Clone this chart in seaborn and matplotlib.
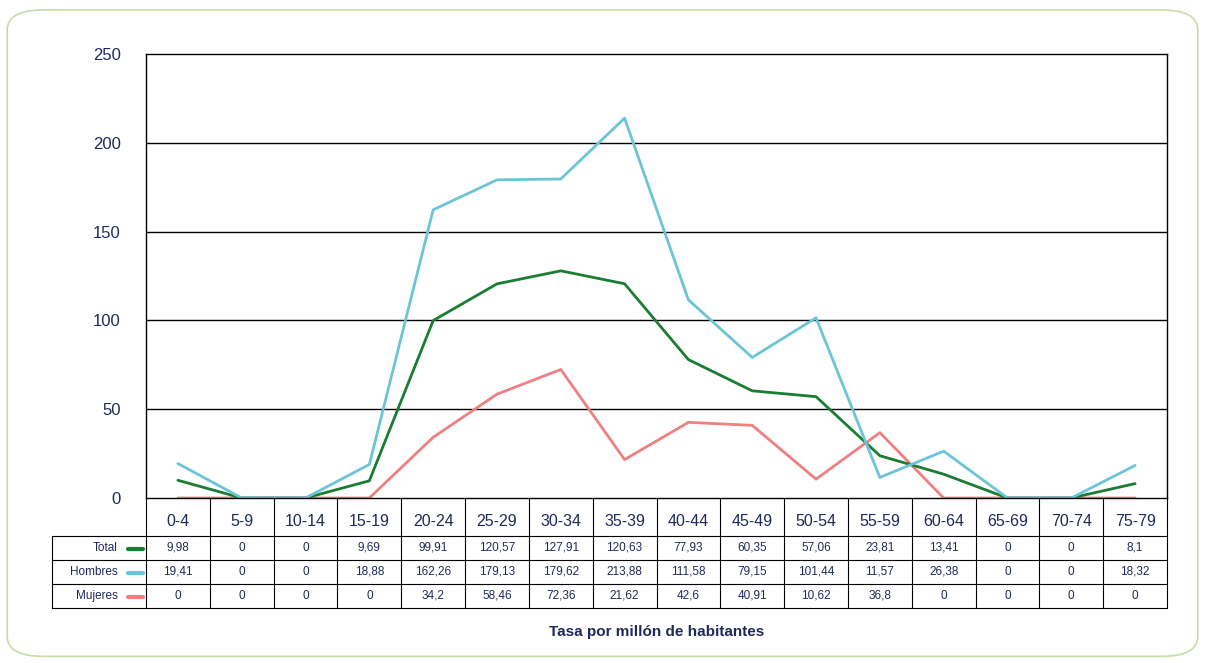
import matplotlib
matplotlib.use("Agg")
import matplotlib.pyplot as plt
import seaborn as sns
import pandas as pd
from matplotlib.patches import FancyBboxPatch

categories = ["0-4", "5-9", "10-14", "15-19", "20-24", "25-29", "30-34", "35-39",
              "40-44", "45-49", "50-54", "55-59", "60-64", "65-69", "70-74", "75-79"]
total = [9.98, 0, 0, 9.69, 99.91, 120.57, 127.91, 120.63, 77.93, 60.35, 57.06, 23.81, 13.41, 0, 0, 8.1]
hombres = [19.41, 0, 0, 18.88, 162.26, 179.13, 179.62, 213.88, 111.58, 79.15, 101.44, 11.57, 26.38, 0, 0, 18.32]
mujeres = [0, 0, 0, 0, 34.2, 58.46, 72.36, 21.62, 42.6, 40.91, 10.62, 36.8, 0, 0, 0, 0]

series = {"Total": total, "Hombres": hombres, "Mujeres": mujeres}
colors = {"Total": "#1b7d32", "Hombres": "#6cc4d6", "Mujeres": "#ee8080"}
navy = "#1f2a5c"

sns.set_theme(style="white")
plt.rcParams["font.family"] = ["Liberation Sans", "DejaVu Sans"]

fig = plt.figure(figsize=(12.05, 6.63), dpi=100)
fig.patches.append(FancyBboxPatch((0.006, 0.01), 0.988, 0.975, boxstyle="round,pad=0,rounding_size=0.03",
                                  transform=fig.transFigure, fill=False, edgecolor="#c8dca8", linewidth=1.2))

ax = fig.add_axes([146 / 1205, 1 - 498 / 663, 1021 / 1205, 444 / 663])
df = pd.DataFrame([(i, name, v) for name, vals in series.items() for i, v in enumerate(vals)],
                  columns=["x", "serie", "valor"])
sns.lineplot(data=df, x="x", y="valor", hue="serie", palette=colors, linewidth=2,
             ax=ax, legend=False, hue_order=["Mujeres", "Total", "Hombres"])
ax.set_xlim(-0.5, 15.5)
ax.set_ylim(0, 250)
ax.set_yticks([0, 50, 100, 150, 200, 250])
ax.set_xticks([])
ax.set_xlabel("")
ax.set_ylabel("")
ax.tick_params(axis="y", labelsize=12, labelcolor=navy, length=0, pad=18)
for y in [50, 100, 150, 200]:
    ax.axhline(y, color="black", linewidth=1, zorder=0)
for s in ax.spines.values():
    s.set_color("black")
    s.set_linewidth(1)

# data table
tx = fig.add_axes([52 / 1205, 1 - 608 / 663, 1115 / 1205, 110 / 663])
tx.set_xlim(0, 1115)
tx.set_ylim(110, 0)
tx.axis("off")
cw = 1021 / 16
x0 = 94
for k in range(17):
    tx.plot([x0 + k * cw] * 2, [0, 110], color="black", linewidth=0.8, clip_on=False)
tx.plot([0, 0], [38, 110], color="black", linewidth=0.8, clip_on=False)
for y in [38, 62, 86, 110]:
    tx.plot([0, 1115], [y, y], color="black", linewidth=0.8, clip_on=False)
for i, c in enumerate(categories):
    tx.text(x0 + (i + 0.5) * cw, 24, c, ha="center", va="center", fontsize=11.5, color=navy)
for r, (name, vals) in enumerate(series.items()):
    yc = 50 + r * 24
    tx.text(66, yc, name, ha="right", va="center", fontsize=8.5, color=navy)
    tx.plot([76, 91], [yc + 1, yc + 1], color=colors[name], linewidth=3)
    for i, v in enumerate(vals):
        lab = f"{v:g}".replace(".", ",")
        tx.text(x0 + (i + 0.5) * cw, yc, lab, ha="center", va="center", fontsize=8.5, color=navy)

fig.text(657 / 1205, 1 - 632 / 663, "Tasa por millón de habitantes", ha="center", va="center",
         fontsize=11, fontweight="bold", color=navy)

fig.savefig("out.png", dpi=100)
